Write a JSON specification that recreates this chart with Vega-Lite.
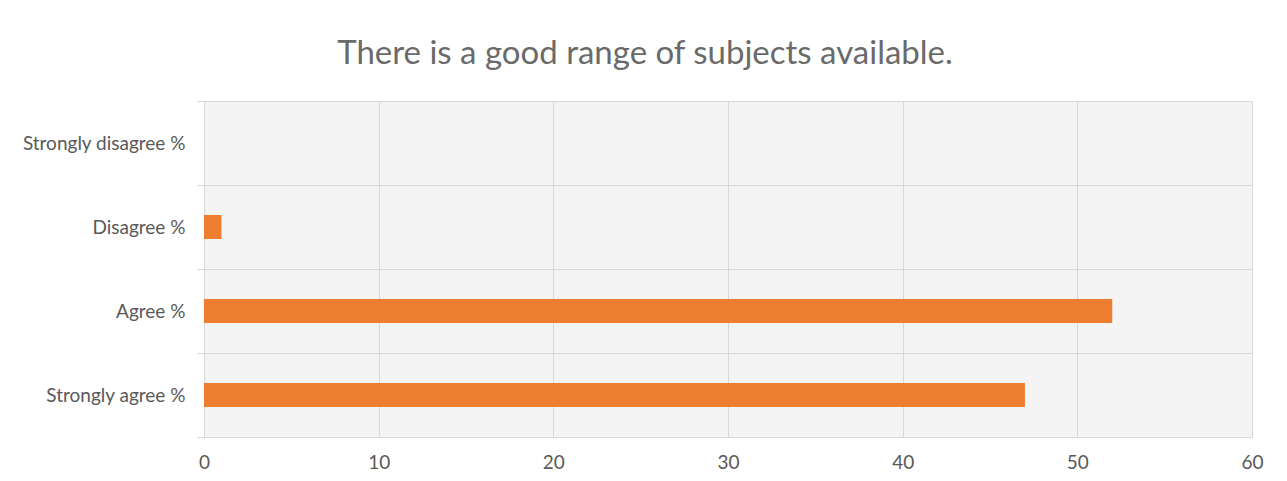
{
  "$schema": "https://vega.github.io/schema/vega-lite/v6.json",
  "width": 1048,
  "height": 336,
  "autosize": {"type": "none"},
  "padding": {"left": 204, "top": 101, "right": 35, "bottom": 44},
  "background": "white",
  "title": {
    "text": "There is a good range of subjects available.",
    "anchor": "middle",
    "frame": "group",
    "dx": -83,
    "offset": 21,
    "font": "Lato",
    "fontSize": 33,
    "fontWeight": "normal",
    "color": "#6a6a6a"
  },
  "config": {
    "view": {"stroke": null, "fill": "#f4f4f4"},
    "axis": {"labelFont": "Lato", "labelFontSize": 19, "labelColor": "#595959", "gridColor": "#d9d9d9", "domainColor": "#d9d9d9", "tickColor": "#d9d9d9", "titleFont": "Lato"}
  },
  "data": {
    "values": [
      {"category": "Strongly disagree %", "value": 0},
      {"category": "Disagree %", "value": 1},
      {"category": "Agree %", "value": 52},
      {"category": "Strongly agree %", "value": 47}
    ]
  },
  "mark": {"type": "bar", "color": "#ED7D31", "height": {"band": 0.286}},
  "encoding": {
    "y": {
      "field": "category",
      "type": "nominal",
      "sort": ["Strongly disagree %", "Disagree %", "Agree %", "Strongly agree %"],
      "scale": {"paddingInner": 0, "paddingOuter": 0},
      "axis": {"title": null, "tickBand": "extent", "grid": true, "ticks": true, "tickSize": 7, "domain": false, "labelPadding": 12}
    },
    "x": {
      "field": "value",
      "type": "quantitative",
      "scale": {"domain": [0, 60], "nice": false},
      "axis": {"title": null, "values": [0, 10, 20, 30, 40, 50, 60], "grid": true, "ticks": false, "domain": true, "labelFlush": false, "labelPadding": 16}
    }
  }
}
